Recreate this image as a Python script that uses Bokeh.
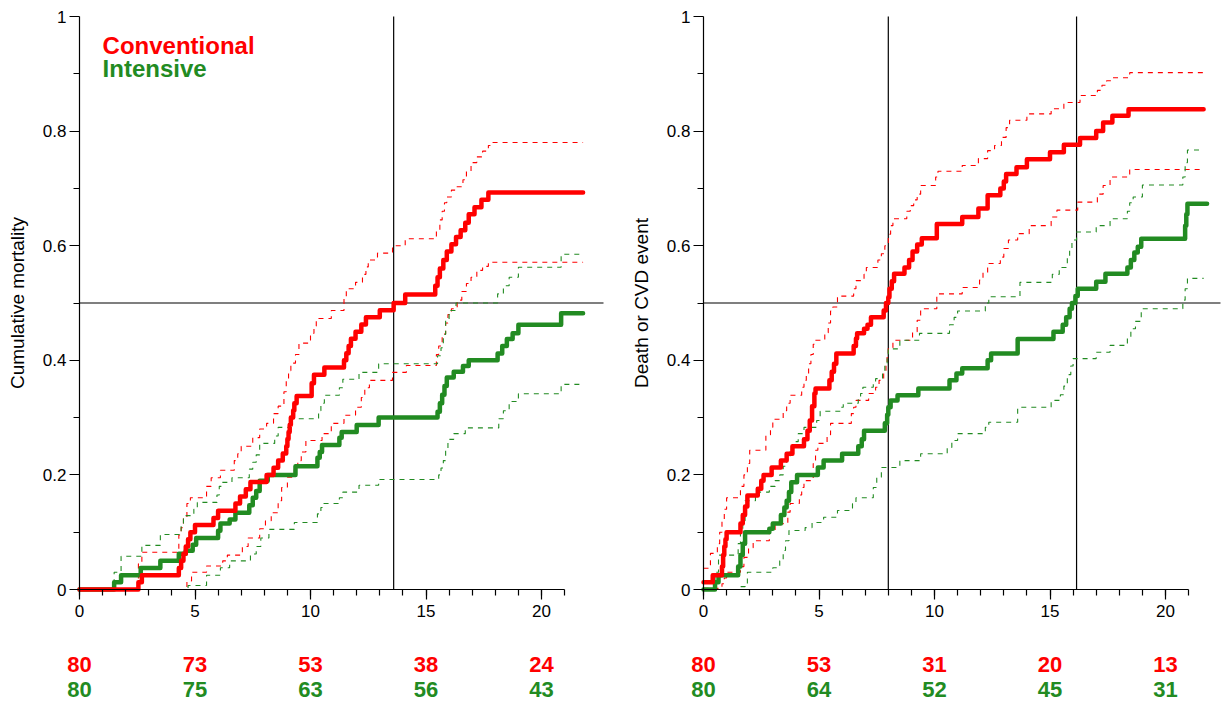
from bokeh.plotting import figure
from bokeh.layouts import row
from bokeh.models import FixedTicker, Label, Range1d, LinearAxis
from bokeh.core.properties import value
from bokeh.embed import file_html
from bokeh.resources import INLINE

FONT = "Liberation Sans"
RED = "#ff0000"
GREEN = "#228b22"

# Kaplan-Meier step curves: (time in years, cumulative incidence), value holds from that time on.
# ---- Panel 1: cumulative mortality ----
mort_conv = [(0, 0), (2.55, .0125), (2.7, .025), (4.3, .0375), (4.4, .05), (4.5, .0625), (4.6, .075),
             (4.7, .0875), (4.8, .1), (5.0, .1125), (5.8, .125), (6.0, .1375), (6.75, .15), (6.95, .1625),
             (7.2, .175), (7.4, .1875), (8.1, .2), (8.4, .2125), (8.6, .225), (8.8, .2375), (8.95, .25),
             (9.0, .2625), (9.05, .275), (9.1, .2875), (9.15, .3), (9.25, .3125), (9.3, .325), (9.4, .3375),
             (10.05, .36), (10.15, .375), (10.6, .3875), (11.45, .4), (11.55, .4125), (11.65, .425),
             (11.75, .4375), (11.95, .45), (12.2, .4625), (12.4, .475), (13.0, .4875), (13.6, .5),
             (14.1, .515), (15.4, .53), (15.5, .545), (15.6, .56), (15.75, .575), (15.9, .59), (16.1, .6025),
             (16.3, .615), (16.5, .627), (16.7, .64), (16.85, .655), (17.1, .667), (17.4, .68), (17.7, .693),
             (21.8, .693)]
mort_conv_hi = [(0, 0), (2.55, .045), (2.7, .065), (4.3, .095), (4.4, .108), (4.5, .125), (4.65, .15),
                (4.8, .16), (5.5, .18), (5.7, .195), (6.1, .208), (6.7, .225), (6.85, .237), (7.0, .25),
                (7.5, .265), (7.8, .28), (8.1, .29), (8.4, .307), (8.6, .32), (8.85, .345), (8.95, .365),
                (9.05, .382), (9.15, .395), (9.35, .41), (9.5, .43), (10.0, .447), (10.15, .46), (10.25, .473),
                (10.9, .487), (11.45, .51), (11.55, .525), (11.95, .536), (12.25, .55), (12.4, .563),
                (12.5, .575), (12.9, .587), (13.55, .6), (14.1, .612), (15.45, .627), (15.6, .645),
                (15.7, .66), (15.8, .675), (15.9, .685), (16.1, .697), (16.3, .703), (16.6, .715),
                (16.75, .73), (16.95, .745), (17.2, .755), (17.45, .765), (17.7, .775), (17.85, .78),
                (21.8, .78)]
mort_conv_lo = [(0, 0), (4.65, .015), (4.85, .03), (5.5, .041), (6.2, .05), (6.4, .06), (7.05, .075),
                (7.3, .09), (7.8, .106), (8.05, .12), (8.3, .134), (8.6, .155), (8.75, .178), (9.0, .196),
                (9.3, .21), (9.45, .225), (9.6, .24), (9.8, .26), (10.5, .272), (10.9, .29), (11.45, .304),
                (11.95, .318), (12.2, .335), (12.35, .352), (12.55, .365), (13.55, .379), (14.15, .391),
                (15.45, .41), (15.55, .425), (15.7, .446), (15.85, .465), (15.95, .48), (16.1, .49),
                (16.35, .505), (16.55, .52), (16.75, .534), (16.95, .545), (17.2, .557), (17.45, .564),
                (17.7, .571), (21.8, .571)]
mort_int = [(0, 0), (1.5, .0125), (1.8, .025), (2.65, .0375), (3.5, .05), (4.3, .0625), (4.6, .0675),
            (4.9, .078), (5.05, .09), (6.0, .1025), (6.1, .115), (6.5, .122), (6.75, .134), (7.35, .147),
            (7.5, .16), (7.65, .172), (7.8, .19), (8.15, .2), (9.35, .215), (10.3, .23), (10.4, .24),
            (10.5, .252), (11.25, .265), (11.35, .275), (12.0, .287), (12.95, .3), (15.5, .31), (15.6, .325),
            (15.7, .34), (15.8, .355), (15.9, .37), (16.2, .38), (16.6, .39), (16.85, .4), (18.1, .412),
            (18.3, .425), (18.5, .437), (18.75, .447), (19.0, .462), (20.85, .482), (21.8, .482)]
mort_int_hi = [(0, 0), (1.5, .03), (1.8, .058), (2.7, .077), (3.5, .096), (4.4, .115), (4.5, .129),
               (4.95, .14), (5.1, .152), (5.95, .165), (6.05, .18), (6.15, .187), (6.6, .195), (7.35, .21),
               (7.5, .222), (7.65, .235), (7.8, .255), (8.45, .268), (8.6, .283), (9.1, .298), (10.35, .312),
               (10.45, .325), (10.6, .339), (11.25, .352), (11.4, .367), (12.1, .379), (12.95, .394),
               (15.5, .408), (15.65, .422), (15.75, .445), (15.85, .47), (16.0, .487), (16.3, .5),
               (18.1, .516), (18.35, .53), (18.6, .545), (19.0, .5625), (20.85, .585), (21.8, .585)]
mort_int_lo = [(0, 0), (4.7, .007), (5.5, .025), (6.1, .038), (6.5, .05), (7.4, .062), (7.65, .075),
               (7.85, .09), (8.2, .105), (9.3, .117), (10.3, .132), (10.45, .143), (10.55, .15), (11.25, .16),
               (11.4, .17), (12.1, .182), (12.95, .192), (15.55, .2), (15.65, .212), (15.75, .225),
               (15.85, .245), (15.95, .262), (16.2, .272), (16.7, .282), (18.15, .298), (18.35, .312),
               (18.6, .328), (19.0, .3415), (20.85, .358), (21.8, .358)]

# ---- Panel 2: death or CVD event ----
cvd_conv = [(0, .0125), (0.4, .025), (0.8, .04), (0.85, .06), (0.9, .075), (0.95, .0875), (1.0, .1),
            (1.6, .115), (1.7, .13), (1.8, .145), (1.9, .164), (2.35, .176), (2.5, .19), (2.6, .2),
            (2.95, .213), (3.35, .225), (3.6, .237), (3.85, .25), (4.35, .262), (4.5, .277), (4.6, .295),
            (4.7, .32), (4.8, .342), (4.85, .351), (5.45, .365), (5.55, .38), (5.65, .394), (5.75, .412),
            (6.5, .425), (6.6, .438), (6.65, .447), (6.95, .455), (7.1, .462), (7.25, .475), (7.8, .487),
            (7.9, .5), (8.0, .51), (8.05, .525), (8.15, .538), (8.25, .551), (8.7, .562), (8.9, .575),
            (9.05, .59), (9.25, .602), (9.45, .613), (10.1, .638), (11.2, .65), (11.9, .665), (12.3, .688),
            (12.85, .7), (13.0, .712), (13.1, .725), (13.55, .737), (14.0, .751), (15.0, .763),
            (15.6, .776), (16.3, .788), (17.0, .8), (17.3, .815), (17.7, .827), (18.4, .838), (21.65, .838)]
cvd_conv_hi = [(0, .037), (0.3, .063), (0.6, .08), (0.7, .1), (0.8, .12), (0.9, .14), (1.0, .16),
               (1.6, .18), (1.75, .2), (1.9, .22), (2.0, .243), (2.7, .27), (2.9, .283), (3.0, .297),
               (3.45, .312), (3.6, .325), (3.75, .339), (4.25, .353), (4.35, .365), (4.45, .377),
               (4.55, .394), (4.65, .41), (4.75, .428), (4.85, .435), (5.25, .448), (5.4, .465),
               (5.5, .486), (5.6, .493), (5.8, .512), (6.5, .525), (6.6, .539), (6.95, .55), (7.05, .562),
               (7.55, .575), (7.7, .586), (7.85, .6), (8.0, .62), (8.1, .635), (8.2, .647), (8.8, .66),
               (8.95, .67), (9.1, .68), (9.25, .69), (9.4, .705), (10.05, .72), (10.15, .73), (11.2, .74),
               (11.9, .752), (12.3, .766), (12.6, .775), (12.9, .789), (13.1, .806), (13.25, .819),
               (14.0, .83), (15.05, .839), (15.6, .85), (16.3, .862), (17.05, .871), (17.25, .88),
               (17.45, .888), (17.65, .893), (18.45, .902), (21.65, .902)]
cvd_conv_lo = [(0, .002), (0.8, .01), (0.9, .02), (1.0, .03), (1.6, .04), (1.75, .056), (1.95, .073),
               (2.15, .085), (2.85, .103), (3.1, .115), (3.65, .135), (3.75, .15), (4.15, .165),
               (4.25, .178), (4.35, .19), (4.75, .22), (4.85, .243), (4.95, .255), (5.35, .27), (5.5, .29),
               (6.4, .307), (6.5, .318), (6.6, .33), (7.15, .342), (7.45, .353), (7.6, .365), (7.8, .38),
               (7.9, .395), (7.95, .41), (8.0, .422), (8.2, .435), (9.05, .45), (9.25, .47), (9.4, .49),
               (10.1, .516), (11.2, .527), (11.95, .54), (12.1, .553), (12.3, .569), (12.85, .58),
               (13.0, .595), (13.2, .61), (13.6, .621), (14.1, .635), (15.05, .65), (15.3, .662),
               (16.2, .676), (17.05, .69), (17.3, .705), (17.6, .72), (18.45, .733), (21.65, .733)]
cvd_int = [(0, 0), (0.5, .0125), (0.65, .025), (1.5, .04), (1.6, .06), (1.7, .08), (1.8, .1), (2.85, .106),
           (3.0, .115), (3.35, .13), (3.5, .143), (3.6, .155), (3.7, .17), (3.8, .187), (4.05, .2),
           (4.95, .213), (5.2, .225), (6.0, .237), (6.7, .25), (6.85, .262), (6.95, .277), (7.85, .29),
           (7.95, .305), (8.0, .318), (8.1, .33), (8.4, .339), (9.3, .351), (10.65, .365), (10.95, .377),
           (11.2, .386), (12.3, .4), (12.45, .412), (13.6, .437), (15.15, .45), (15.55, .462), (15.7, .475),
           (15.85, .49), (15.95, .5), (16.1, .512), (16.2, .525), (17.0, .537), (17.4, .551), (18.35, .562),
           (18.5, .575), (18.65, .588), (18.8, .598), (18.95, .612), (20.85, .635), (20.9, .655),
           (20.95, .673), (21.8, .673)]
cvd_int_hi = [(0, 0), (0.5, .03), (0.65, .06), (1.5, .08), (1.6, .1), (1.7, .12), (1.8, .155), (2.25, .17),
              (2.85, .18), (3.1, .19), (3.3, .2), (3.45, .215), (3.6, .23), (3.75, .245), (3.9, .258),
              (4.1, .272), (4.35, .283), (4.9, .295), (5.05, .311), (5.95, .318), (6.05, .325), (6.7, .335),
              (6.8, .342), (6.9, .353), (7.35, .362), (7.45, .368), (7.75, .38), (7.85, .395), (7.95, .41),
              (8.0, .42), (8.5, .435), (9.35, .447), (10.65, .462), (10.85, .475), (11.0, .486), (12.2, .5),
              (12.35, .511), (13.7, .536), (15.1, .55), (15.4, .562), (15.75, .58), (15.85, .595),
              (15.95, .61), (16.15, .624), (17.0, .635), (17.6, .647), (18.35, .66), (18.45, .675),
              (18.6, .685), (19.0, .706), (20.75, .72), (20.85, .745), (20.95, .767), (21.65, .767)]
cvd_int_lo = [(0, 0), (1.5, .005), (1.8, .01), (1.9, .03), (3.0, .038), (3.3, .05), (3.45, .068),
              (3.55, .085), (3.7, .103), (4.4, .108), (4.7, .117), (5.2, .126), (5.8, .138), (6.45, .15),
              (6.6, .16), (7.35, .178), (7.5, .196), (7.7, .213), (8.5, .225), (9.4, .237), (10.55, .248),
              (10.75, .26), (11.0, .272), (12.2, .283), (12.35, .292), (13.6, .318), (15.05, .33),
              (15.45, .34), (15.6, .355), (15.75, .375), (15.9, .39), (16.0, .403), (17.0, .414),
              (17.6, .426), (18.35, .44), (18.5, .455), (18.7, .468), (18.95, .49), (20.75, .505),
              (20.85, .525), (20.95, .543), (21.65, .543)]

# Median survival times (reference lines) and numbers at risk
mort_medians = [13.6]
cvd_medians = [8.0, 16.15]
risk_times = [0, 5, 10, 15, 20]
mort_risk_conv = [80, 73, 53, 38, 24]
mort_risk_int = [80, 75, 63, 56, 43]
cvd_risk_conv = [80, 53, 31, 20, 13]
cvd_risk_int = [80, 64, 52, 45, 31]

x_ticks = [0, 5, 10, 15, 20]
x_minor = list(range(0, 22))
y_ticks = [0, 0.2, 0.4, 0.6, 0.8, 1]
y_minor = [0.1, 0.3, 0.5, 0.7, 0.9]
y_tick_labels = {0: "0", 0.2: "0.2", 0.4: "0.4", 0.6: "0.6", 0.8: "0.8", 1: "1"}

# Page geometry (pixels): the plotting frame covers the whole canvas and the axes are
# pinned at t=0 / y=0, which leaves room below for the numbers-at-risk rows.
PAGE_H = 701
PX_PER_YEAR = 23.1
PX_PER_UNIT = 573
Y_TOP_PX = 16          # canvas row of y = 1
RISK_ROWS_PX = (664, 689)


def draw_km(p, pts, color, solid):
    xs = [t for t, _ in pts]
    ys = [v for _, v in pts]
    if solid:
        p.step(xs, ys, mode="after", line_color=color, line_width=4.5,
               line_join="round", line_cap="round")
    else:
        p.step(xs, ys, mode="after", line_color=color, line_width=1.1, line_dash="5 5")


def style_axis(ax):
    ax.axis_line_color = "black"
    ax.axis_line_width = 1.2
    ax.major_tick_line_color = "black"
    ax.minor_tick_line_color = "black"
    ax.major_tick_line_width = 1.2
    ax.minor_tick_line_width = 1.2
    ax.major_tick_out = 10
    ax.major_tick_in = 0
    ax.minor_tick_out = 6
    ax.minor_tick_in = 0
    ax.major_label_text_font = FONT
    ax.major_label_text_font_size = "17px"
    ax.major_label_text_color = "black"
    ax.axis_label_text_font = FONT
    ax.axis_label_text_font_size = "19px"
    ax.axis_label_text_font_style = "normal"
    ax.axis_label_text_color = "black"


def make_panel(width, origin_px, line_end_px, ylabel, curves, medians, risk_conv, risk_int, legend):
    x_start = -origin_px / PX_PER_YEAR
    x_end = (width - origin_px) / PX_PER_YEAR
    y_start = 1 - (PAGE_H - Y_TOP_PX) / PX_PER_UNIT
    y_end = 1 + Y_TOP_PX / PX_PER_UNIT
    p = figure(width=width, height=PAGE_H, x_range=Range1d(x_start, x_end),
               y_range=Range1d(y_start, y_end), x_axis_type=None, y_axis_type=None,
               output_backend="svg", toolbar_location=None, min_border=0)
    p.outline_line_color = None
    p.grid.visible = False

    xa = LinearAxis(fixed_location=0, bounds=(0, 21),
                    ticker=FixedTicker(ticks=x_ticks, minor_ticks=x_minor))
    style_axis(xa)
    xa.major_label_standoff = 5
    p.add_layout(xa, "below")

    ya = LinearAxis(fixed_location=0, bounds=(0, 1), axis_label=ylabel,
                    ticker=FixedTicker(ticks=y_ticks, minor_ticks=y_minor),
                    major_label_overrides=y_tick_labels)
    style_axis(ya)
    ya.major_label_standoff = 3
    ya.axis_label_standoff = 12
    p.add_layout(ya, "left")

    # reference lines: 50% level and the median times
    line_end = (line_end_px - origin_px) / PX_PER_YEAR
    p.segment(x0=[0], y0=[0.5], x1=[line_end], y1=[0.5], line_color="black", line_width=1.2)
    p.segment(x0=medians, y0=[0] * len(medians), x1=medians, y1=[1] * len(medians),
              line_color="black", line_width=1.2)

    for pts, color, solid in curves:
        draw_km(p, pts, color, solid)

    # numbers at risk below the time axis
    common = dict(text_font=value(FONT), text_font_size="22px", text_font_style="bold",
                  text_align="center", text_baseline="middle")
    for row_px, counts, color in zip(RISK_ROWS_PX, (risk_conv, risk_int), (RED, GREEN)):
        yv = 1 - (row_px - Y_TOP_PX) / PX_PER_UNIT
        p.text(x=risk_times, y=[yv] * len(risk_times), text=[str(n) for n in counts],
               text_color=color, **common)

    if legend:
        p.add_layout(Label(x=1.0, y=0.949, text="Conventional", text_color=RED, text_font=FONT,
                           text_font_size="24px", text_font_style="bold", text_baseline="middle"))
        p.add_layout(Label(x=1.0, y=0.909, text="Intensive", text_color=GREEN, text_font=FONT,
                           text_font_size="24px", text_font_style="bold", text_baseline="middle"))
    return p


mort_curves = [(mort_conv_hi, RED, False), (mort_conv_lo, RED, False),
               (mort_int_hi, GREEN, False), (mort_int_lo, GREEN, False),
               (mort_int, GREEN, True), (mort_conv, RED, True)]
cvd_curves = [(cvd_conv_hi, RED, False), (cvd_conv_lo, RED, False),
              (cvd_int_hi, GREEN, False), (cvd_int_lo, GREEN, False),
              (cvd_int, GREEN, True), (cvd_conv, RED, True)]

left = make_panel(620, 79, 603, "Cumulative mortality", mort_curves, mort_medians,
                  mort_risk_conv, mort_risk_int, True)
right = make_panel(603, 83, 600, "Death or CVD event", cvd_curves, cvd_medians,
                   cvd_risk_conv, cvd_risk_int, False)

page = row(left, right, spacing=0)
open("out.html", "w").write(file_html(page, INLINE))
